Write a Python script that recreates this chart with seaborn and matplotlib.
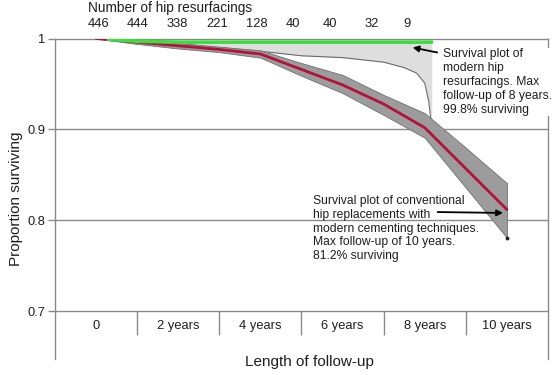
import matplotlib
matplotlib.use("Agg")
import matplotlib.pyplot as plt
import seaborn as sns
import numpy as np

# ---- data ----
years_conv = [0, 1, 2, 3, 4, 5, 6, 7, 8, 9, 10]
surv_conv = [1.0, 0.996, 0.992, 0.988, 0.983, 0.966, 0.949, 0.928, 0.902, 0.857, 0.812]
upper_conv = [1.0, 0.998, 0.995, 0.991, 0.987, 0.973, 0.960, 0.938, 0.918, 0.880, 0.841]
lower_conv = [1.0, 0.994, 0.989, 0.985, 0.979, 0.959, 0.940, 0.916, 0.891, 0.836, 0.781]

years_resurf = [0.3, 1, 2, 3, 4, 5, 6, 7, 7.5, 7.8, 8.0, 8.1, 8.17]
surv_resurf = [0.999, 0.997, 0.996, 0.996, 0.996, 0.996, 0.996, 0.996, 0.996, 0.996, 0.996, 0.996, 0.996]
lower_resurf = [0.999, 0.997, 0.994, 0.990, 0.986, 0.981, 0.979, 0.974, 0.968, 0.962, 0.951, 0.930, 0.902]

at_risk = ["446", "444", "338", "221", "128", "40", "40", "32", "9"]
at_risk_pos = [0.05, 1.02, 1.97, 2.94, 3.91, 4.79, 5.69, 6.71, 7.56]

cat_labels = ["0", "2 years", "4 years", "6 years", "8 years", "10 years"]
cat_pos = [0, 2, 4, 6, 8, 10]
y_ticks = [1.0, 0.9, 0.8, 0.7]
y_ticklabels = ["1", "0.9", "0.8", "0.7"]

# ---- style ----
sns.set_theme(style="white")
plt.rcParams["font.family"] = ["Liberation Sans", "DejaVu Sans"]

W, H = 557, 375
fig = plt.figure(figsize=(W / 100, H / 100), dpi=100)
ax = fig.add_axes([55 / W, 1 - 359 / H, 493 / W, (359 - 38.5) / H])

GRID = "#8a8a8a"
TXT = "#1e1e1e"
ax.set_xlim(-1, 11)
ax.set_ylim(0.6478, 1.0)

# light grey CI of resurfacing
ax.fill_between(years_resurf, lower_resurf, surv_resurf, color="#dedede", lw=0, zorder=1)
ax.plot(years_resurf, lower_resurf, color="#6a6a6a", lw=0.8, zorder=2)

# dark grey CI of conventional
ax.fill_between(years_conv, lower_conv, upper_conv, color="#9c9c9c",
                edgecolor="#707070", lw=0.6, zorder=3)
ax.plot([10, 10], [lower_conv[-1], upper_conv[-1]], color="#808080", lw=0.6, zorder=3)

# grid lines
for yv in [0.9, 0.8, 0.7]:
    ax.axhline(yv, color=GRID, lw=1.0, zorder=2.5)

sns.lineplot(x=years_conv, y=surv_conv, color="#b3123c", lw=2.0, ax=ax, zorder=5)
sns.lineplot(x=years_resurf, y=surv_resurf, color="#3fdc3f", lw=2.6, ax=ax, zorder=6)
ax.plot([10], [lower_conv[-1]], "o", color="#222222", ms=1.8, zorder=6)

# spines
for s in ["left", "right", "top"]:
    ax.spines[s].set_visible(True)
    ax.spines[s].set_color(GRID)
    ax.spines[s].set_linewidth(1.0)
ax.spines["bottom"].set_visible(False)

ax.set_yticks(y_ticks)
ax.set_yticklabels(y_ticklabels, fontsize=9.3, color=TXT)
ax.tick_params(axis="y", length=5, width=1, color=GRID, pad=2, left=True)
ax.set_xticks([])

# category row
for xp, lab in zip(cat_pos, cat_labels):
    ax.text(xp, 0.684, lab, ha="center", va="center", fontsize=9.3, color=TXT)
ax.vlines([1, 3, 5, 7, 9], 0.674, 0.7, color=GRID, lw=1.0)

ax.set_ylabel("Proportion surviving", fontsize=11, color=TXT, labelpad=3)
ax.text(5.2, 0.6478 + (359 - 362) / 910, "Length of follow-up", ha="center", va="center",
        fontsize=11, color=TXT, clip_on=False)

# top numbers at risk
for xp, lab in zip(at_risk_pos, at_risk):
    ax.annotate(lab, xy=(xp, H - 24), xycoords=("data", "figure pixels"),
                ha="center", va="center", fontsize=9.3, color=TXT)
ax.annotate("Number of hip resurfacings", xy=(1.81, H - 8), xycoords=("data", "figure pixels"),
            ha="center", va="center", fontsize=9.8, color=TXT)

# annotations
def px2d(px, py):
    return ((px - 96.1) / 41.1, 1 - (py - 38.5) / 910)

ax.annotate("", xy=px2d(410, 47), xytext=px2d(440, 53),
            arrowprops=dict(arrowstyle="-|>", color="black", lw=1.3, mutation_scale=9))
ax.text(*px2d(443, 48.5), "Survival plot of\nmodern hip\nresurfacings. Max\nfollow-up of 8 years.\n99.8% surviving",
        ha="left", va="top", fontsize=8.7, color=TXT, linespacing=1.2,
        bbox=dict(facecolor="white", edgecolor="none", pad=0.5))

ax.annotate("", xy=px2d(506, 213), xytext=px2d(435, 212),
            arrowprops=dict(arrowstyle="-|>", color="black", lw=1.3, mutation_scale=9), zorder=7)
ax.text(*px2d(313, 195), "Survival plot of conventional\nhip replacements with\nmodern cementing techniques.\nMax follow-up of 10 years.\n81.2% surviving",
        ha="left", va="top", fontsize=8.7, color=TXT, linespacing=1.2)

fig.savefig("out.png", dpi=100)
